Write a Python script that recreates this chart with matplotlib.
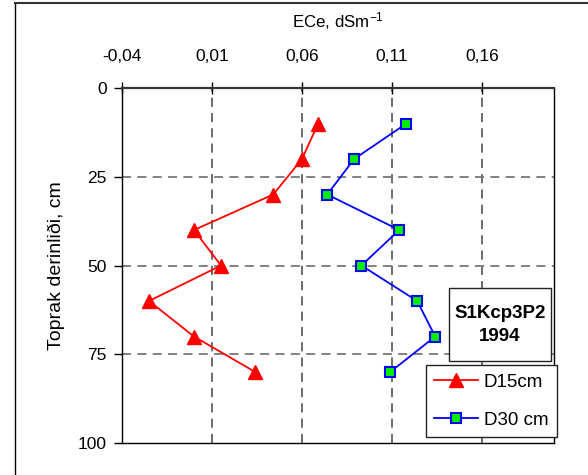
import matplotlib
matplotlib.use("Agg")
import matplotlib.pyplot as plt
from matplotlib.lines import Line2D
from matplotlib.patches import Rectangle
from matplotlib.ticker import FuncFormatter

plt.rcParams['font.family'] = ['Liberation Sans', 'DejaVu Sans']
plt.rcParams['mathtext.default'] = 'regular'

depth = [10, 20, 30, 40, 50, 60, 70, 80]
d15 = [0.069, 0.060, 0.044, 0.000, 0.015, -0.025, 0.000, 0.034]
d30 = [0.118, 0.089, 0.074, 0.114, 0.093, 0.124, 0.134, 0.109]
xticks = [-0.04, 0.01, 0.06, 0.11, 0.16]
yticks = [0, 25, 50, 75, 100]
series_labels = ['D15cm', 'D30 cm']
box_text = 'S1Kcp3P2\n1994'

fig = plt.figure(figsize=(5.88, 4.75), dpi=100)
ax = fig.add_axes([122/588, 1-443/475, (554-122)/588, (443-88)/475])

ax.plot(d15, depth, color='red', lw=1.3, marker='^', ms=10.5, mfc='red', mec='red',
        label=series_labels[0], zorder=3)
ax.plot(d30, depth, color='blue', lw=1.3, marker='s', ms=7.5, mfc='#00ee00', mec='blue',
        mew=1.5, label=series_labels[1], zorder=3)

ax.set_xlim(-0.04, 0.20)
ax.set_ylim(100, 0)
ax.set_xticks(xticks)
ax.set_yticks(yticks)
ax.xaxis.set_major_formatter(FuncFormatter(lambda v, p: ('%.2f' % v).replace('.', ',')))
ax.xaxis.tick_top()
ax.xaxis.set_label_position('top')
ax.tick_params(axis='x', direction='inout', length=9, width=1, labelsize=12.5, pad=13)
ax.tick_params(axis='y', direction='out', length=6, width=1, labelsize=12.5, pad=5)

for v in xticks[1:]:
    ax.axvline(v, color='#444444', lw=1.1, ls=(0, (6, 4)), zorder=1)
for v in yticks[1:-1]:
    ax.axhline(v, color='#777777', lw=1.3, ls=(0, (5, 3.5)), zorder=1)

for s in ['left', 'bottom', 'right']:
    ax.spines[s].set_linewidth(1)
ax.spines['top'].set_linewidth(1.6)
ax.spines['top'].set_color('#333333')

ax.set_xlabel('ECe, dSm$^{-1}$', fontsize=12.2, labelpad=15)
ax.set_ylabel('Toprak derinliði, cm', fontsize=14, labelpad=9)

# annotation box
fig.add_artist(Rectangle((449/588, 1-361/475), 102/588, 73/475, transform=fig.transFigure,
                         fc='white', ec='#222222', lw=1, zorder=5))
fig.text(500/588, 1-325/475, box_text, ha='center', va='center', fontsize=13.5,
         fontweight='bold', linespacing=1.45, zorder=6)

leg = ax.legend(loc='lower right', bbox_to_anchor=(557/588, 1-437/475),
                bbox_transform=fig.transFigure, fontsize=13.5, fancybox=False,
                edgecolor='#222222', framealpha=1, handlelength=2.35,
                labelspacing=1.1, borderpad=0.45, handletextpad=0.3, borderaxespad=0)
leg.get_frame().set_linewidth(1)

fig.add_artist(Line2D([15/588, 15/588], [0, 1-3/475], color='black', lw=1,
                      transform=fig.transFigure))
fig.add_artist(Line2D([15/588, 1], [1-3/475, 1-3/475], color='#333333', lw=1.5,
                      transform=fig.transFigure))

fig.savefig('out.png', dpi=100)
